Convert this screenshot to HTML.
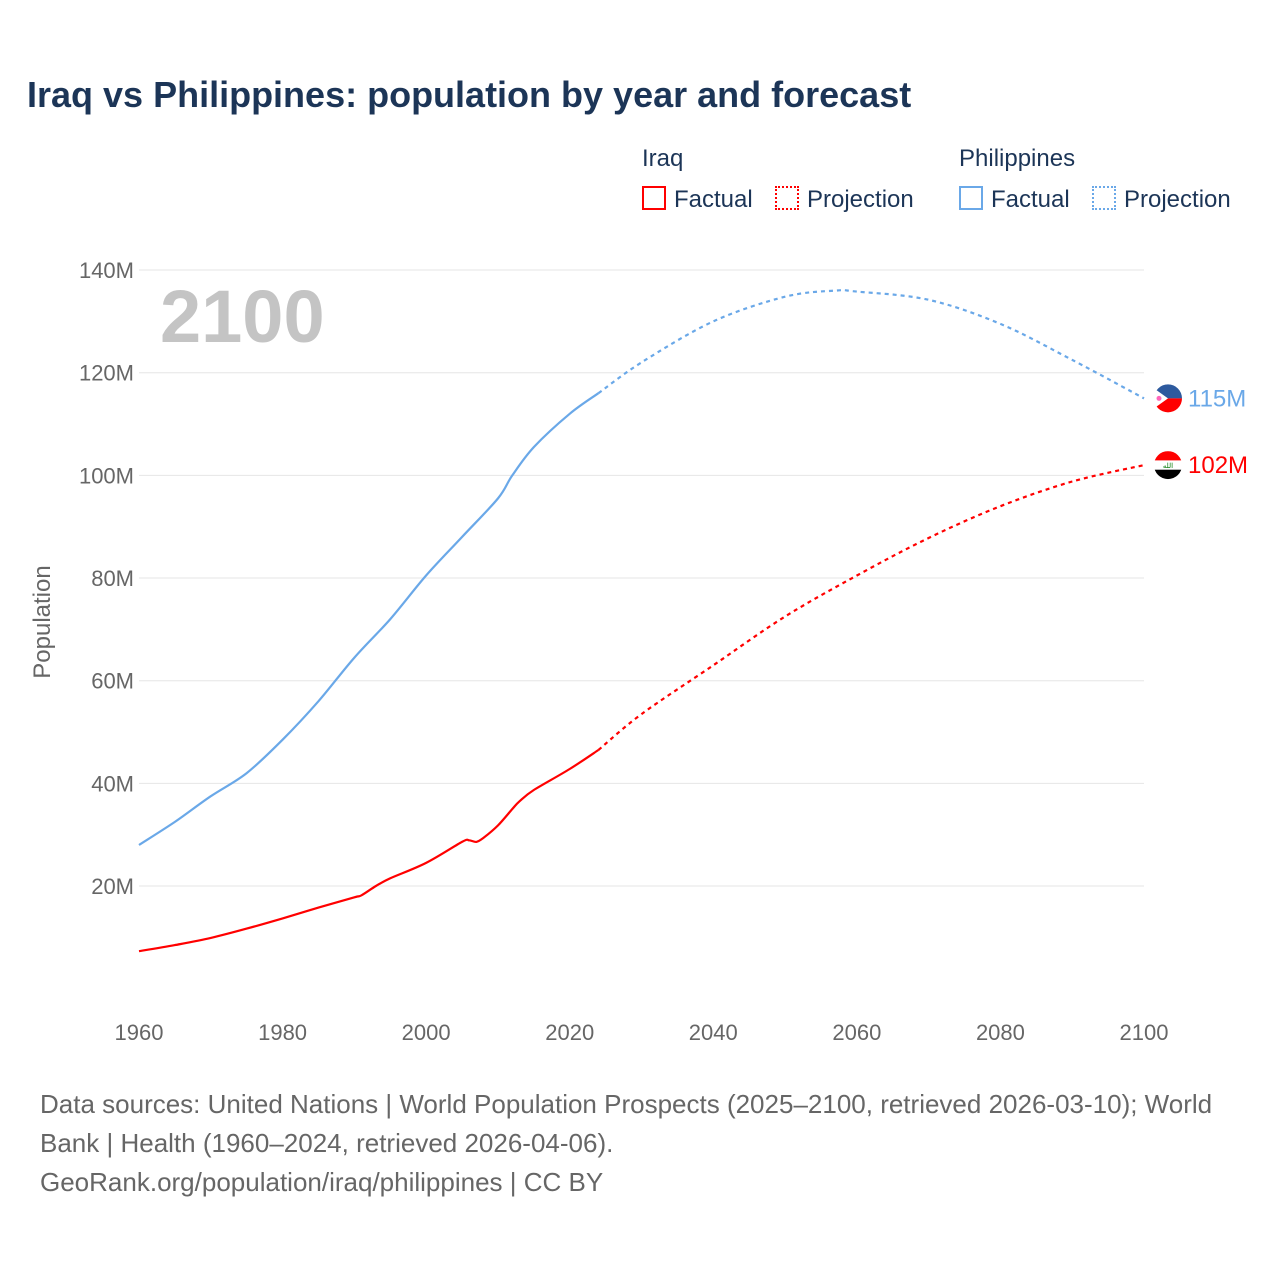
<!DOCTYPE html>
<html><head><meta charset="utf-8"><style>
body{margin:0;background:#fff;font-family:"Liberation Sans",sans-serif;}
#wrap{position:relative;width:1280px;height:1280px;overflow:hidden;}
.t{position:absolute;white-space:nowrap;}
</style></head><body>
<div id="wrap">
<div class="t" style="left:27px;top:74px;font-size:36px;font-weight:bold;color:#1c3557;">Iraq vs Philippines: population by year and forecast</div>
<div class="t" style="left:642px;top:145px;font-size:24px;color:#1c3557;">Iraq</div>
<div class="t" style="left:959px;top:145px;font-size:24px;color:#1c3557;">Philippines</div>
<div class="t" style="left:642px;top:186px;font-size:24px;color:#1c3557;"><span style="display:inline-block;width:24px;height:24px;border:2px solid #f00;box-sizing:border-box;vertical-align:-3px;margin-right:8px"></span>Factual</div>
<div class="t" style="left:775px;top:186px;font-size:24px;color:#1c3557;"><span style="display:inline-block;width:24px;height:24px;border:2px dotted #f00;box-sizing:border-box;vertical-align:-3px;margin-right:8px"></span>Projection</div>
<div class="t" style="left:959px;top:186px;font-size:24px;color:#1c3557;"><span style="display:inline-block;width:24px;height:24px;border:2px solid #6aa8e8;box-sizing:border-box;vertical-align:-3px;margin-right:8px"></span>Factual</div>
<div class="t" style="left:1092px;top:186px;font-size:24px;color:#1c3557;"><span style="display:inline-block;width:24px;height:24px;border:2px dotted #6aa8e8;box-sizing:border-box;vertical-align:-3px;margin-right:8px"></span>Projection</div>
<svg id="chart" width="1280" height="1280" style="position:absolute;left:0;top:0"></svg>
<div class="t" style="left:40px;top:1085px;font-size:26px;line-height:39px;color:#666;">Data sources: United Nations | World Population Prospects (2025–2100, retrieved 2026-03-10); World<br>Bank | Health (1960–2024, retrieved 2026-04-06).<br>GeoRank.org/population/iraq/philippines | CC BY</div>
</div>
<script>
const yTicks=[20,40,60,80,100,120,140];
const xTicks=[1960,1980,2000,2020,2040,2060,2080,2100];
const phYears=[1960,1965,1970,1975,1980,1985,1990,1995,2000,2005,2010,2012,2015,2020,2024];
const phVals=[28,32.5,37.5,42,48.5,56,64.5,72,80.5,88,95.5,100,105.5,112,116];
const phProjYears=[2024,2030,2040,2050,2057,2060,2070,2080,2090,2100];
const phProjVals=[116,122,130,134.8,136,135.8,134.2,129.5,122.5,115];
const iqYears=[1960,1965,1970,1975,1980,1985,1990,1991,1993,1995,2000,2005,2006,2007,2008,2010,2012,2013,2015,2020,2024];
const iqVals=[7.3,8.5,9.9,11.7,13.7,15.8,17.8,18.2,20,21.5,24.5,28.6,28.9,28.6,29.4,31.8,35,36.5,38.7,42.8,46.5];
const iqProjYears=[2024,2030,2040,2050,2060,2070,2080,2090,2100];
const iqProjVals=[46.5,53.5,63,72.5,80.5,87.8,94,98.8,102];
const svg=document.getElementById('chart');
const NS='http://www.w3.org/2000/svg';
const x=y=>139+(y-1960)*(1144-139)/140;
const yv=v=>988.7-v*(886-270)/120;
function mk(tag,attrs,txt){const e=document.createElementNS(NS,tag);for(const k in attrs)e.setAttribute(k,attrs[k]);if(txt!==undefined)e.textContent=txt;svg.appendChild(e);return e;}
yTicks.forEach(t=>{
 const g=mk('line',{x1:139,x2:1144,y1:yv(t),y2:yv(t),stroke:'#e6e6e6','stroke-width':1});
 
 
 const l=mk('text',{x:134,y:yv(t)+8,'text-anchor':'end','font-size':22,fill:'#666','font-family':'Liberation Sans'},t+'M');
 
 
});
xTicks.forEach(t=>{
 const l=mk('text',{x:x(t),y:1040,'text-anchor':'middle','font-size':22,fill:'#666','font-family':'Liberation Sans'},t);
 
 
});
const yt=mk('text',{x:0,y:0,transform:'translate(50,622) rotate(-90)','text-anchor':'middle','font-size':24,fill:'#666','font-family':'Liberation Sans'},'Population');


const yr=mk('text',{x:160,y:342,'font-size':74,'font-weight':'bold',fill:'#c4c4c4','font-family':'Liberation Sans'},'2100');


function line(ys,vs,color,dash,name){
 const P=ys.map((a,i)=>[x(a),yv(vs[i])]);
 let d='M'+P[0][0].toFixed(1)+','+P[0][1].toFixed(1);
 for(let i=0;i<P.length-1;i++){
  const p0=P[i-1]||P[i],p1=P[i],p2=P[i+1],p3=P[i+2]||P[i+1];
  const c1=[p1[0]+(p2[0]-p0[0])/6,p1[1]+(p2[1]-p0[1])/6];
  const c2=[p2[0]-(p3[0]-p1[0])/6,p2[1]-(p3[1]-p1[1])/6];
  d+=` C${c1[0].toFixed(1)},${c1[1].toFixed(1)} ${c2[0].toFixed(1)},${c2[1].toFixed(1)} ${p2[0].toFixed(1)},${p2[1].toFixed(1)}`;
 }
 const p=mk('path',{d:d,fill:'none',stroke:color,'stroke-width':2.2,'stroke-dasharray':dash||'','stroke-linejoin':'round'});
 
 
}
line(phYears,phVals,'#6aa8e8','','philippines-factual-line');
line(phProjYears,phProjVals,'#6aa8e8','4 4','philippines-projection-line');
line(iqYears,iqVals,'#f00','','iraq-factual-line');
line(iqProjYears,iqProjVals,'#f00','4 4','iraq-projection-line');
const phY=yv(phProjVals[phProjVals.length-1]), iqY=yv(iqProjVals[iqProjVals.length-1]);
const fx=1168;
const defs=mk('defs',{});
const cp=document.createElementNS(NS,'clipPath');cp.setAttribute('id','iqclip');
const cc=document.createElementNS(NS,'circle');cc.setAttribute('cx',fx);cc.setAttribute('cy',iqY);cc.setAttribute('r',14);
cp.appendChild(cc);defs.appendChild(cp);
let c=mk('path',{d:`M${fx-14},${phY} A14,14 0 0 1 ${fx+14},${phY} Z`,fill:'#2d5a9e'});

mk('path',{d:`M${fx-14},${phY} A14,14 0 0 0 ${fx+14},${phY} Z`,fill:'#f00'});
mk('path',{d:`M${fx-14},${phY-10} L${fx},${phY} L${fx-14},${phY+10} Z`,fill:'#fff'});
mk('circle',{cx:fx-9,cy:phY,r:2.5,fill:'#f6b'});
const g=mk('g',{'clip-path':'url(#iqclip)'});

[['#f00',-14],['#fff',-4.7],['#000',4.6]].forEach(([f,o])=>{const r=document.createElementNS(NS,'rect');r.setAttribute('x',fx-14);r.setAttribute('y',iqY+o);r.setAttribute('width',28);r.setAttribute('height',9.5);r.setAttribute('fill',f);g.appendChild(r);});
const at=document.createElementNS(NS,'text');at.setAttribute('x',fx);at.setAttribute('y',iqY+3);at.setAttribute('text-anchor','middle');at.setAttribute('font-size',7);at.setAttribute('fill','#070');at.textContent='الله';g.appendChild(at);
let t=mk('text',{x:1188,y:phY+8,'font-size':24,fill:'#6aa8e8','font-family':'Liberation Sans'},phProjVals[phProjVals.length-1]+'M');

t=mk('text',{x:1188,y:iqY+8,'font-size':24,fill:'#f00','font-family':'Liberation Sans'},iqProjVals[iqProjVals.length-1]+'M');

</script>
</body></html>
